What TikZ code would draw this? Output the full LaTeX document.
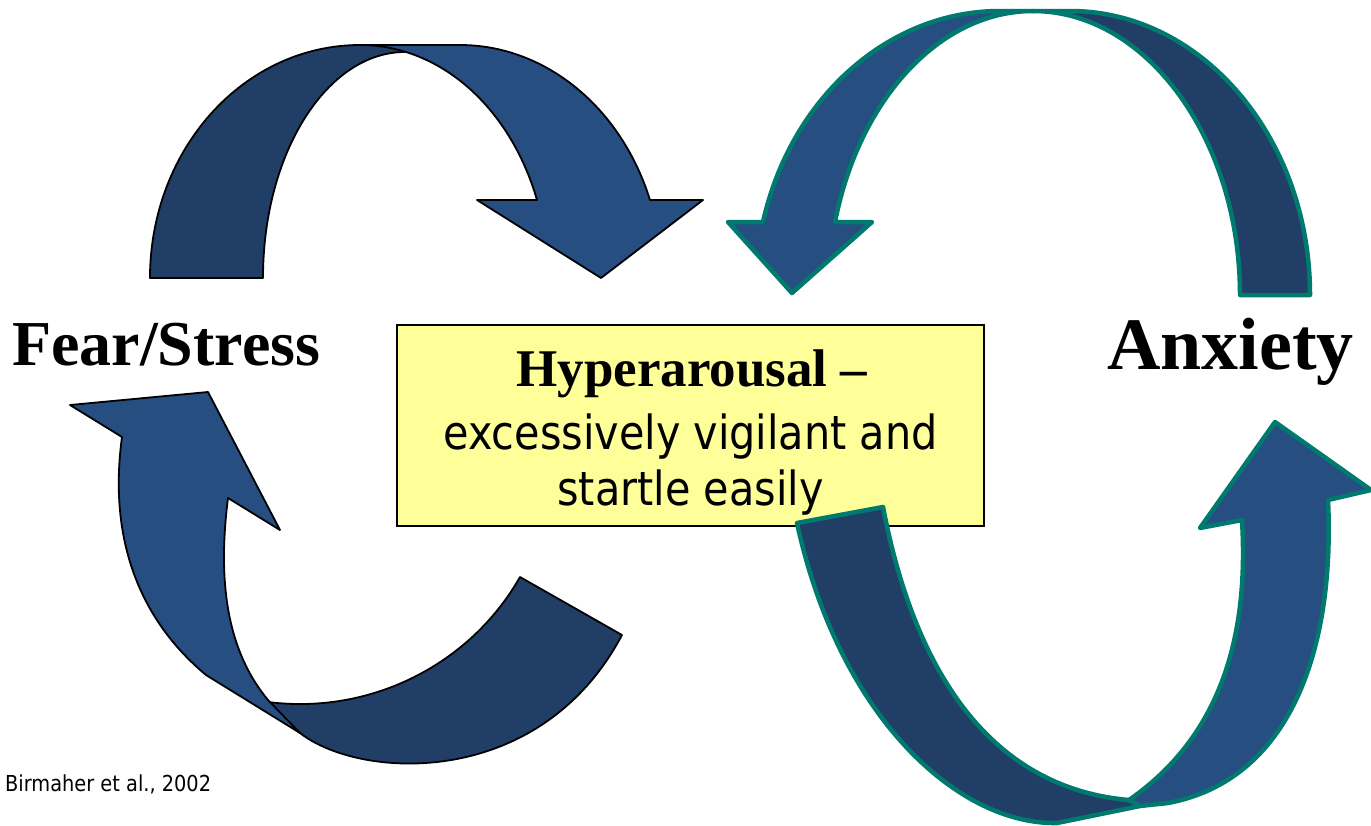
\documentclass[tikz,border=0pt]{standalone}
\usepackage{fontspec}
\setmainfont{Liberation Serif}
\newfontfamily\tahoma[FakeStretch=0.88]{DejaVu Sans}
\usepackage{tikz}
\definecolor{ribbondark}{RGB}{33,62,102}
\definecolor{ribbonlight}{RGB}{38,78,128}
\definecolor{ribbonteal}{RGB}{0,122,110}
\definecolor{boxyellow}{RGB}{255,255,153}
\tikzset{
  backblack/.style={fill=ribbondark, draw=black, line width=1.8pt, line join=round},
  frontblack/.style={fill=ribbonlight, draw=black, line width=1.8pt, line join=round},
  backteal/.style={fill=ribbondark, draw=ribbonteal, line width=4.5pt, line join=round},
  frontteal/.style={fill=ribbonlight, draw=ribbonteal, line width=4.5pt, line join=round},
  bigword/.style={inner sep=0pt, anchor=base west},
  boxline/.style={font=\tahoma\fontsize{47}{50}\selectfont, inner sep=0pt, anchor=base}
}

\begin{document}
\begin{tikzpicture}[x=1pt, y=-1pt]
\useasboundingbox (0,0) rectangle (1371,825);
\node (hyper) [draw, fill=boxyellow, line width=2pt, minimum width=587pt, minimum height=201pt, inner sep=0pt] at (690.5,425.5) {};
\draw[backblack] (150,278) .. controls (150,149) and (244,45) .. (360,45) -- (405,45) -- (405,52) .. controls (327,52) and (263,153) .. (263,278) -- cycle;
\draw[frontblack] (360,45) -- (460,45) .. controls (545,45) and (621,107) .. (650,200) -- (703,200) -- (601,278) -- (477,200) -- (537,200) .. controls (510,107) and (440,45) .. (360,45) -- cycle;
\draw[frontteal] (728,222) -- (792,293) -- (872,222) -- (835,222) .. controls (859,99) and (940,11) .. (1033,11) -- (1000,11) .. controls (889,11) and (791,97) .. (763,222) -- cycle;
\draw[backteal] (1033,11) -- (1070,11) .. controls (1202,11) and (1310,138) .. (1310,295) -- (1240,295) .. controls (1240,140) and (1147,11) .. (1033,11) -- cycle;
\draw[backblack] (300,733) .. controls (360,780) and (540,790) .. (622,635) -- (520,577) .. controls (470,665) and (370,715) .. (268,702) -- cycle;
\draw[frontblack] (122,437) -- (70,405) -- (208,392) -- (280,530) -- (228,498) .. controls (215,600) and (235,660) .. (268,700) -- (300,733) -- (206,675) .. controls (140,620) and (108,540) .. (122,437) -- cycle;
\draw[backteal] (797,523) -- (883,507) .. controls (920,700) and (1010,790) .. (1129,800) -- (1140,806) -- (1057,823) .. controls (960,825) and (840,720) .. (797,523) -- cycle;
\draw[frontteal] (1129,800) .. controls (1230,730) and (1248,620) .. (1242,520) -- (1200,528) -- (1275,422) -- (1371,490) -- (1328,500) .. controls (1335,650) and (1290,780) .. (1168,803) -- (1140,806) -- cycle;
\node (fear) [bigword, font=\fontsize{64}{70}\selectfont\bfseries] at (12,365) {Fear/Stress};
\node (anxiety) [bigword, font=\fontsize{74}{80}\selectfont\bfseries] at (1107,369) {Anxiety};
\node (title) [inner sep=0pt, anchor=base, font=\fontsize{53}{56}\selectfont\bfseries] at (692,386) {Hyperarousal –};
\node (vigilant) [boxline] at (690.5,449) {excessively vigilant and};
\node (startle) [boxline] at (690.5,505) {startle easily};
\node (source) [inner sep=0pt, anchor=base west, font=\tahoma\fontsize{22}{24}\selectfont] at (5,791) {Birmaher et al., 2002};
\end{tikzpicture}
\end{document}
